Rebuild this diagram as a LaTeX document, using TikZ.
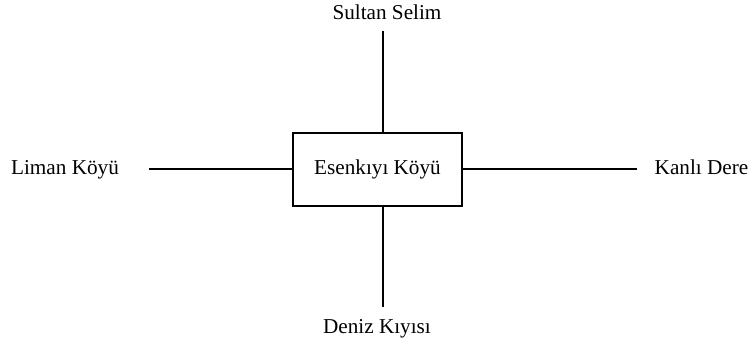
\documentclass[tikz,border=0pt]{standalone}
\usepackage{fontspec}
\setmainfont{Liberation Serif}
\usepackage{tikz}
\usetikzlibrary{positioning}

\begin{document}
\begin{tikzpicture}[x=1pt,y=1pt,node distance=0pt]
      \tikzset{village/.style={rectangle,draw,line width=0.9pt,minimum width=84.5pt,minimum height=36.5pt,font=\fontsize{10.6}{12}\selectfont}}
      \tikzset{place/.style={inner sep=0pt,text height=7.3pt,text depth=2.3pt,font=\fontsize{10.6}{12}\selectfont}}
      \tikzset{link/.style={draw,line width=1pt}}
      
      \useasboundingbox (-188.75,-86.25) rectangle (185.75,84.75);
      
      \node[village] (esen) at (0,0) {Esenkıyı Köyü};
      
      \node[place] (sultan) [above of=esen,xshift=4.75pt,yshift=77.5pt] {Sultan Selim};
      \node[place] (deniz) [below of=esen,xshift=-0.25pt,yshift=-79.5pt] {Deniz Kıyısı};
      \node[place] (liman) [left of=esen,xshift=-156.25pt,yshift=-0.25pt] {Liman Köyü};
      \node[place] (kanli) [right of=esen,xshift=162pt,yshift=-0.25pt] {Kanlı Dere};
      
      \coordinate (ntop) at ([xshift=2.75pt,yshift=69.25pt] esen.center);
      \coordinate (nbot) at ([xshift=2.75pt,yshift=-68.75pt] esen.center);
      \coordinate (nleft) at ([xshift=-114.25pt,yshift=0.25pt] esen.center);
      \coordinate (nright) at ([xshift=129.75pt,yshift=0.25pt] esen.center);
      
      \draw[link] (ntop) -- (ntop |- esen.north);
      \draw[link] (nbot) -- (nbot |- esen.south);
      \draw[link] (nleft) -- (nleft -| esen.west);
      \draw[link] (nright -| esen.east) -- (nright);
      
\end{tikzpicture}
\end{document}
